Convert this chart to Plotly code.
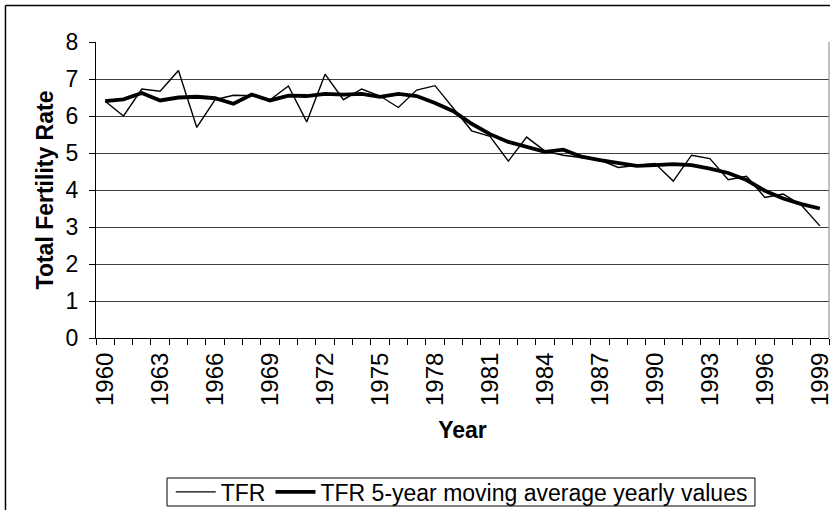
import plotly.graph_objects as go

years = list(range(1960, 2000))
tfr = [6.40, 6.00, 6.73, 6.67, 7.23, 5.69, 6.44, 6.56, 6.55, 6.44,
       6.81, 5.84, 7.13, 6.44, 6.73, 6.54, 6.23, 6.70, 6.82, 6.20,
       5.60, 5.45, 4.78, 5.43, 5.05, 4.94, 4.88, 4.81, 4.61, 4.67,
       4.72, 4.24, 4.94, 4.85, 4.28, 4.37, 3.80, 3.89, 3.59, 3.03]
tfr_ma = [6.40, 6.45, 6.62, 6.42, 6.50, 6.52, 6.48, 6.33, 6.58, 6.42,
          6.55, 6.54, 6.60, 6.58, 6.60, 6.52, 6.60, 6.54, 6.35, 6.13,
          5.79, 5.51, 5.30, 5.16, 5.03, 5.09, 4.90, 4.81, 4.72, 4.65,
          4.67, 4.70, 4.67, 4.58, 4.46, 4.27, 3.98, 3.77, 3.62, 3.50]
tick_years = list(range(1960, 2000, 3))

FONT = "Liberation Sans, Arial, sans-serif"

fig = go.Figure()
fig.add_trace(go.Scatter(x=years, y=tfr, mode="lines", name="TFR",
                         line=dict(color="black", width=1.4)))
fig.add_trace(go.Scatter(x=years, y=tfr_ma, mode="lines",
                         name="TFR 5-year moving average yearly values",
                         line=dict(color="black", width=3.8)))

fig.update_layout(
    width=835, height=510,
    margin=dict(l=96, r=6, t=42, b=172, autoexpand=False),
    paper_bgcolor="white", plot_bgcolor="white",
    font=dict(family=FONT, size=23, color="black"),
    showlegend=True,
    legend=dict(orientation="h", x=0.499, xanchor="center", y=-0.520, yanchor="middle",
                borderwidth=0, bgcolor="rgba(0,0,0,0)", font=dict(size=23),
                itemwidth=40, tracegroupgap=0, traceorder="normal"),
    xaxis=dict(range=[1959.5, 1999.5], tickmode="array", tickvals=tick_years,
               ticktext=[str(y) for y in tick_years], tickangle=-90,
               tickfont=dict(size=24), ticklabelstandoff=4, automargin=False,
               ticks="", showgrid=False, zeroline=False,
               showline=True, linecolor="black", linewidth=1,
               minor=dict(tick0=1959.5, dtick=1, ticks="outside", ticklen=6,
                          tickcolor="black", showgrid=False),
               title=dict(text="<b>Year</b>", font=dict(size=23), standoff=16)),
    yaxis=dict(range=[0, 8], dtick=1, ticks="outside", ticklen=6, tickcolor="black",
               tickfont=dict(size=23), ticklabelstandoff=6, automargin=False,
               showline=True, linecolor="black", linewidth=1, zeroline=False,
               showgrid=True, gridcolor="#404040", gridwidth=1,
               title=dict(text="<b>Total Fertility Rate</b>", font=dict(size=23), standoff=5)),
)

# plot-area right edge
fig.add_shape(type="line", xref="paper", yref="paper", x0=1, x1=1, y0=0, y1=1,
              line=dict(color="#808080", width=1))
# legend box
fig.add_shape(type="rect", xref="paper", yref="paper", x0=0.0969, x1=0.899,
              y0=-0.5676, y1=-0.473, line=dict(color="black", width=1))
# chart-area border (top and left)
fig.add_shape(type="line", xref="paper", yref="paper", x0=-0.1235, x1=1.0014,
              y0=1.1233, y1=1.1233, line=dict(color="black", width=1.5))
fig.add_shape(type="line", xref="paper", yref="paper", x0=-0.1235, x1=-0.1235,
              y0=1.1233, y1=-0.6, line=dict(color="black", width=1.5))

fig.write_html("out.html", config={"displayModeBar": False},
               post_script="document.body.style.margin='0';document.body.style.padding='0';")
